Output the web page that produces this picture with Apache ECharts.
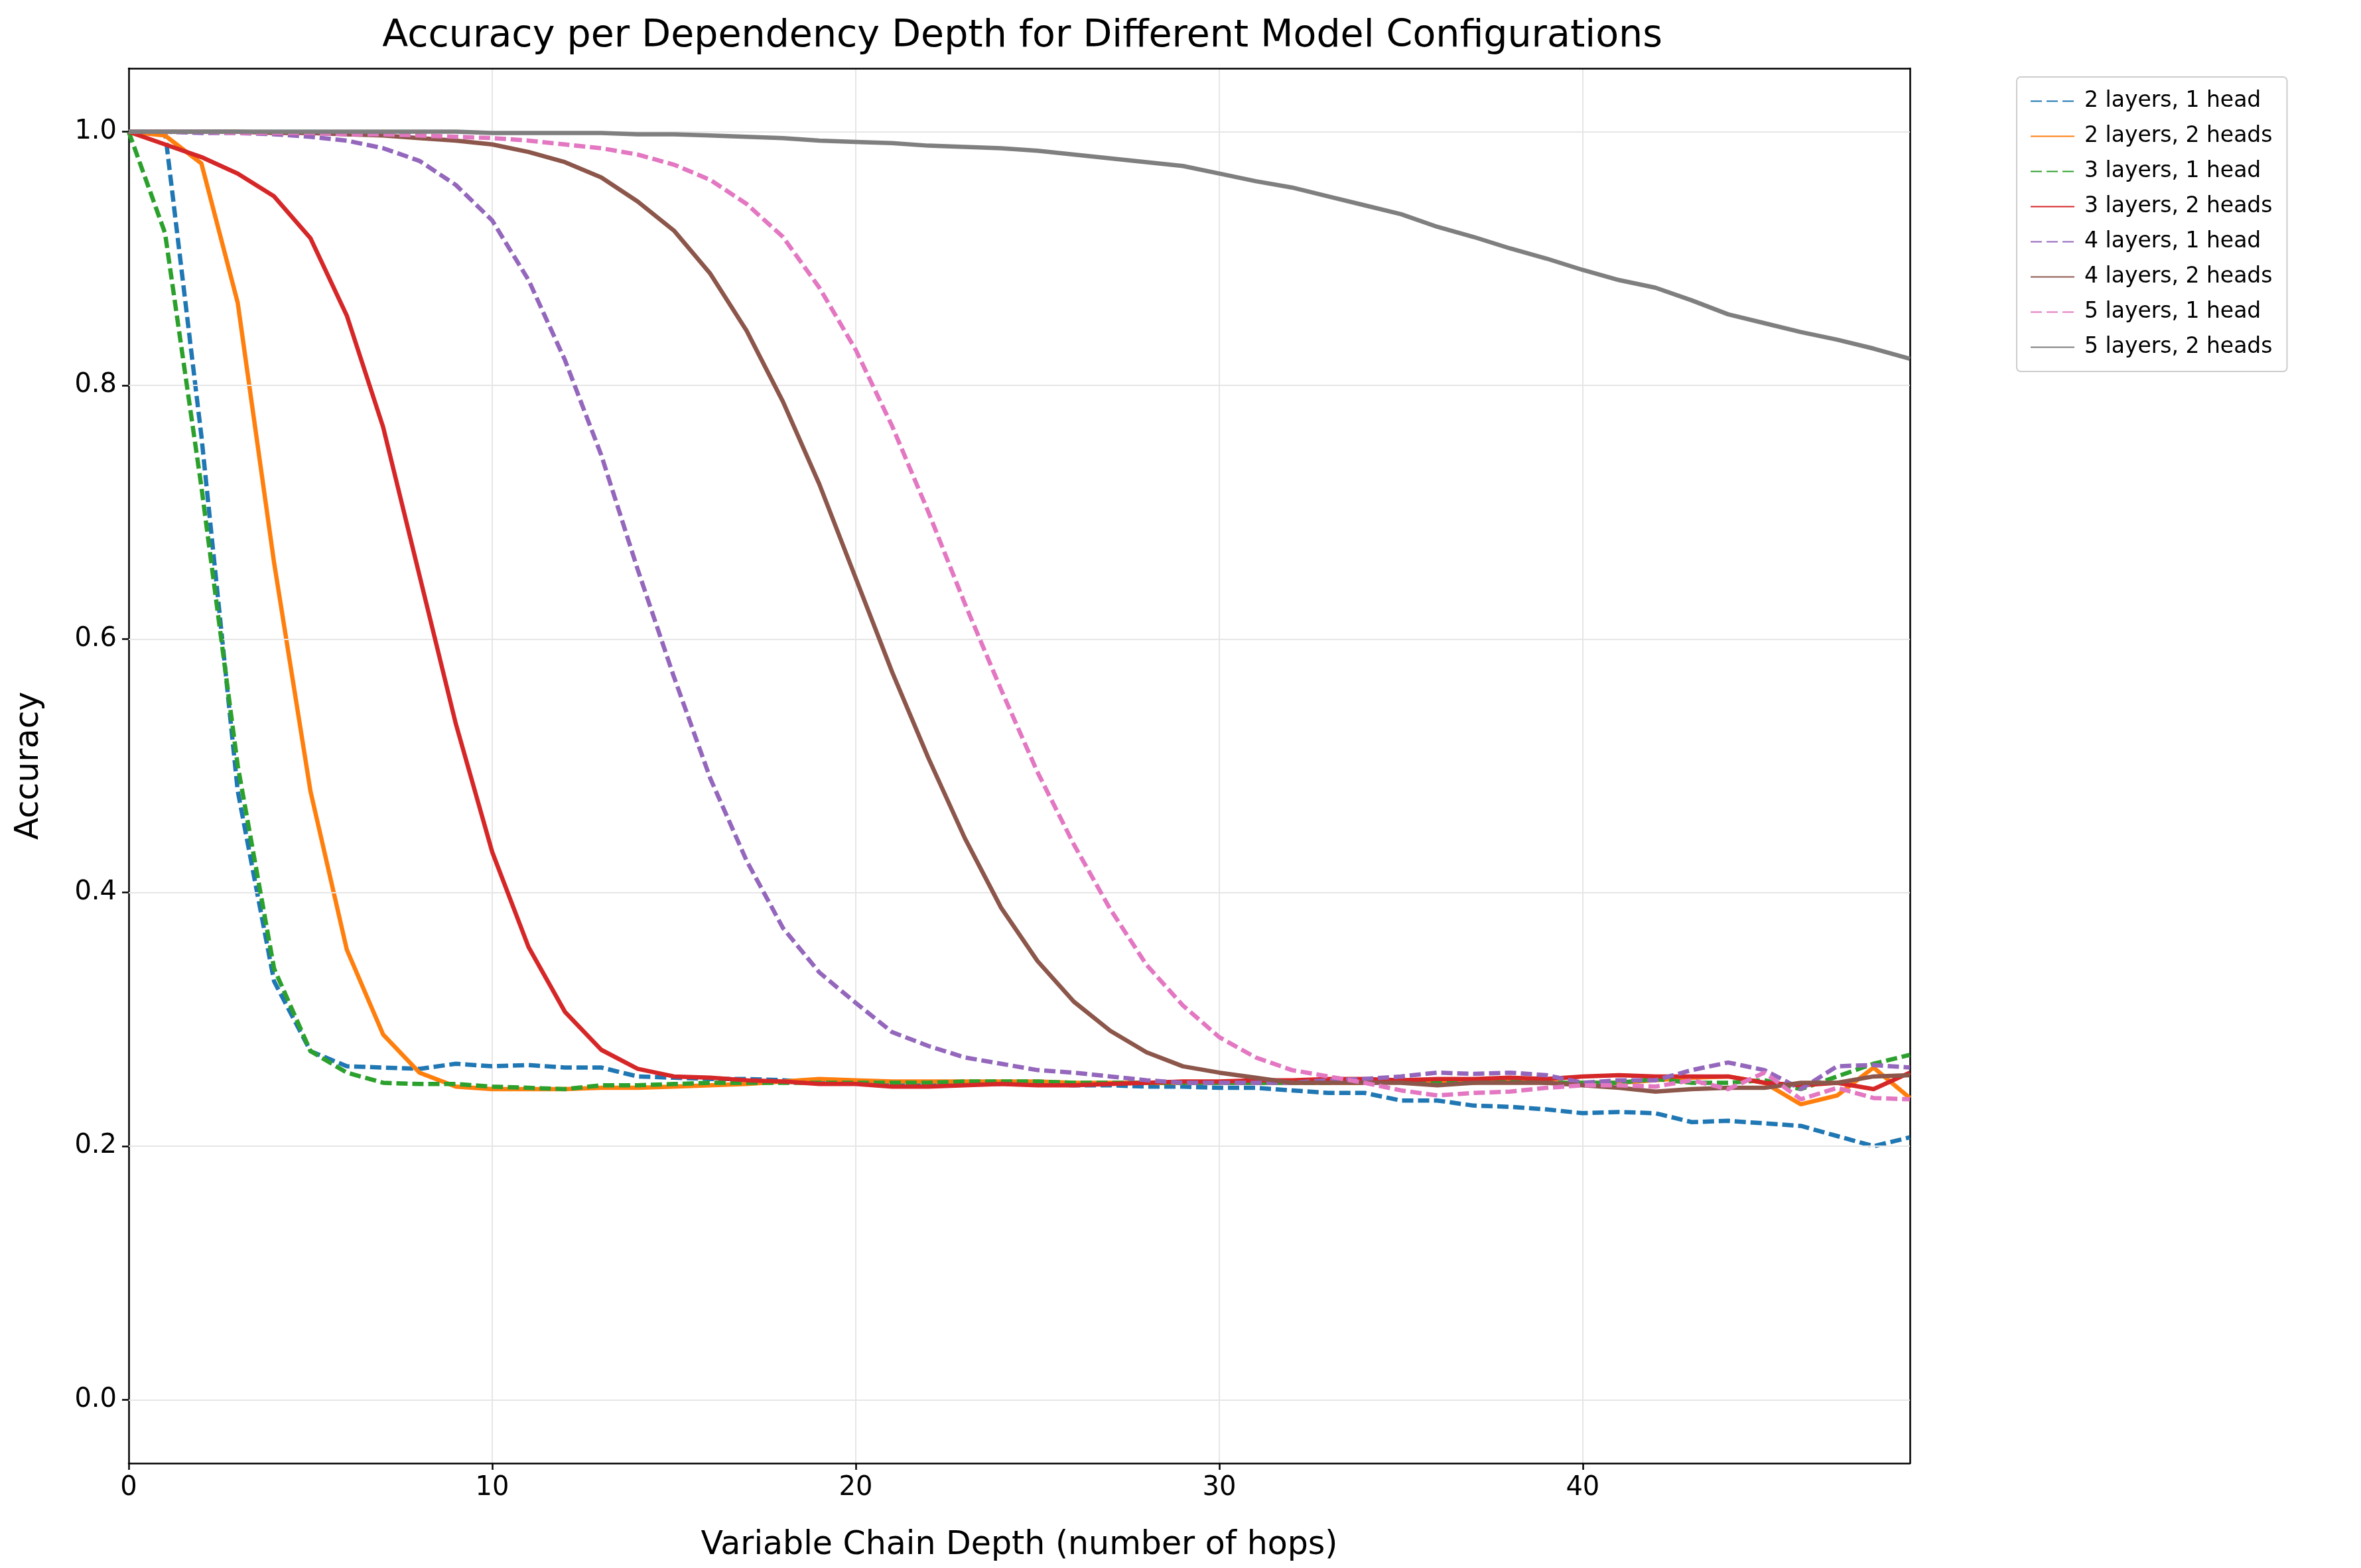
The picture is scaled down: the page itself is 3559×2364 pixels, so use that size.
<!DOCTYPE html>
<html><head><meta charset="utf-8">
<script src="https://cdn.jsdelivr.net/npm/echarts@6/dist/echarts.min.js"></script>
<style>html,body{margin:0;padding:0;background:#fff}#c{width:3559px;height:2364px}</style>
</head><body><div id="c"></div>
<script>
const depth = Array.from({length:50},(_,i)=>i);
const yTicks = [0.0,0.2,0.4,0.6,0.8,1.0];
const names = ["2 layers, 1 head","2 layers, 2 heads","3 layers, 1 head","3 layers, 2 heads","4 layers, 1 head","4 layers, 2 heads","5 layers, 1 head","5 layers, 2 heads"];
const l2h1 = [1.0,1.0,0.76,0.48,0.33,0.275,0.263,0.262,0.261,0.265,0.263,0.264,0.262,0.262,0.255,0.254,0.253,0.253,0.252,0.25,0.25,0.25,0.249,0.249,0.249,0.249,0.248,0.248,0.247,0.247,0.246,0.246,0.244,0.242,0.242,0.236,0.236,0.232,0.231,0.229,0.226,0.227,0.226,0.219,0.22,0.218,0.216,0.208,0.2,0.207];
const l2h2 = [1.0,0.997,0.975,0.865,0.66,0.48,0.355,0.288,0.258,0.247,0.245,0.245,0.245,0.246,0.246,0.247,0.248,0.249,0.251,0.253,0.252,0.251,0.251,0.251,0.251,0.251,0.25,0.25,0.25,0.25,0.25,0.25,0.25,0.25,0.25,0.251,0.25,0.25,0.252,0.25,0.25,0.25,0.252,0.254,0.255,0.25,0.233,0.24,0.262,0.238];
const l3h1 = [1.0,0.92,0.72,0.5,0.34,0.275,0.258,0.25,0.249,0.249,0.247,0.246,0.245,0.248,0.248,0.249,0.25,0.25,0.25,0.25,0.25,0.25,0.25,0.251,0.251,0.251,0.25,0.25,0.25,0.25,0.25,0.25,0.25,0.25,0.251,0.252,0.251,0.252,0.252,0.25,0.25,0.25,0.253,0.25,0.25,0.252,0.245,0.255,0.265,0.272];
const l3h2 = [1.0,0.99,0.98,0.967,0.949,0.916,0.855,0.767,0.65,0.533,0.432,0.357,0.306,0.276,0.261,0.255,0.254,0.252,0.251,0.249,0.249,0.247,0.247,0.248,0.249,0.248,0.248,0.249,0.25,0.251,0.251,0.252,0.252,0.253,0.253,0.252,0.253,0.253,0.254,0.253,0.255,0.256,0.255,0.255,0.255,0.25,0.248,0.25,0.245,0.258];
const l4h1 = [1.0,1.0,0.999,0.999,0.998,0.996,0.993,0.987,0.977,0.958,0.93,0.883,0.82,0.745,0.655,0.57,0.49,0.425,0.372,0.337,0.313,0.29,0.279,0.27,0.265,0.26,0.258,0.255,0.252,0.25,0.25,0.25,0.25,0.252,0.253,0.255,0.258,0.257,0.258,0.256,0.25,0.252,0.252,0.26,0.266,0.26,0.245,0.263,0.264,0.262];
const l4h2 = [1.0,1.0,1.0,1.0,0.999,0.999,0.998,0.997,0.995,0.993,0.99,0.984,0.976,0.964,0.945,0.922,0.888,0.843,0.787,0.722,0.648,0.574,0.506,0.443,0.388,0.346,0.314,0.291,0.274,0.263,0.258,0.254,0.25,0.25,0.25,0.25,0.248,0.25,0.25,0.25,0.248,0.246,0.243,0.245,0.246,0.246,0.25,0.25,0.255,0.256];
const l5h1 = [1.0,1.0,1.0,0.999,0.999,0.999,0.998,0.998,0.997,0.996,0.995,0.993,0.99,0.987,0.982,0.974,0.962,0.943,0.917,0.877,0.828,0.768,0.7,0.628,0.56,0.495,0.438,0.387,0.343,0.311,0.286,0.27,0.26,0.255,0.25,0.244,0.24,0.242,0.243,0.246,0.248,0.248,0.247,0.252,0.245,0.258,0.237,0.246,0.238,0.237];
const l5h2 = [1.0,1.0,1.0,1.0,1.0,1.0,1.0,1.0,1.0,1.0,0.999,0.999,0.999,0.999,0.998,0.998,0.997,0.996,0.995,0.993,0.992,0.991,0.989,0.988,0.987,0.985,0.982,0.979,0.976,0.973,0.967,0.961,0.956,0.949,0.942,0.935,0.925,0.917,0.908,0.9,0.891,0.883,0.877,0.867,0.856,0.849,0.842,0.836,0.829,0.821];
const values = [l2h1,l2h2,l3h1,l3h2,l4h1,l4h2,l5h1,l5h2];
const colors = ['#1f77b4','#ff7f0e','#2ca02c','#d62728','#9467bd','#8c564b','#e377c2','#7f7f7f'];
const dashed = [true,false,true,false,true,false,true,false];
const F = 'DejaVu Sans';
const series = values.map((v,i)=>({
  name:names[i], type:'line', symbol:'none', showSymbol:false, data:v.map((y,j)=>[depth[j],y]),
  lineStyle:{color:colors[i], width:6.5, type: dashed[i]?[17,7]:'solid'},
  itemStyle:{color:colors[i]}, z: 3+i
}));
series.push({type:'line', data:[], silent:true, markLine:{silent:true, symbol:'none', label:{show:false},
  lineStyle:{color:'#e6e6e6', width:2, type:'solid'}, data: yTicks.map(t=>({yAxis:t}))}});
const edge = {show:true, onZero:false, lineStyle:{color:'#000', width:2.5}};
const chart = echarts.init(document.getElementById('c'));
chart.setOption({
  animation:false,
  title:{text:'Accuracy per Dependency Depth for Different Model Configurations', left:1536, top:22, textAlign:'center',
    textStyle:{fontFamily:F, fontSize:57, fontWeight:'normal', color:'#000'}},
  grid:{left:194, right:680, top:103, bottom:158},
  legend:{orient:'vertical', left:3040, top:116, data:names, itemWidth:66, itemHeight:20, itemGap:20,
    itemStyle:{opacity:0},
    padding:[20,22,20,20], borderColor:'#ccc', borderWidth:2, borderRadius:6,
    textStyle:{fontFamily:F, fontSize:33, color:'#000', padding:[0,0,0,10]}},
  xAxis:[{type:'value', min:0, max:49, interval:10, name:'Variable Chain Depth (number of hops)', nameLocation:'middle', nameGap:100,
    nameTextStyle:{fontFamily:F, fontSize:49, color:'#000'},
    axisLine:edge,
    axisTick:{show:true, length:10, lineStyle:{color:'#000', width:2.5}},
    axisLabel:{fontFamily:F, fontSize:40, color:'#000', margin:18, showMaxLabel:false},
    splitLine:{show:true, lineStyle:{color:'#e6e6e6', width:2}}},
   {type:'value', position:'top', min:0, max:49, axisLine:edge, axisTick:{show:false}, axisLabel:{show:false}, splitLine:{show:false}}],
  yAxis:[{type:'value', min:-0.05, max:1.05, name:'Accuracy', nameLocation:'middle', nameGap:125,
    nameTextStyle:{fontFamily:F, fontSize:49, color:'#000'},
    axisLine:edge,
    axisTick:{show:true, length:10, customValues:yTicks, lineStyle:{color:'#000', width:2.5}},
    axisLabel:{fontFamily:F, fontSize:40, color:'#000', margin:18, customValues:yTicks, formatter:v=>v.toFixed(1)},
    splitLine:{show:false}},
   {type:'value', position:'right', min:-0.05, max:1.05, axisLine:edge, axisTick:{show:false}, axisLabel:{show:false}, splitLine:{show:false}}],
  series
});
</script></body></html>
